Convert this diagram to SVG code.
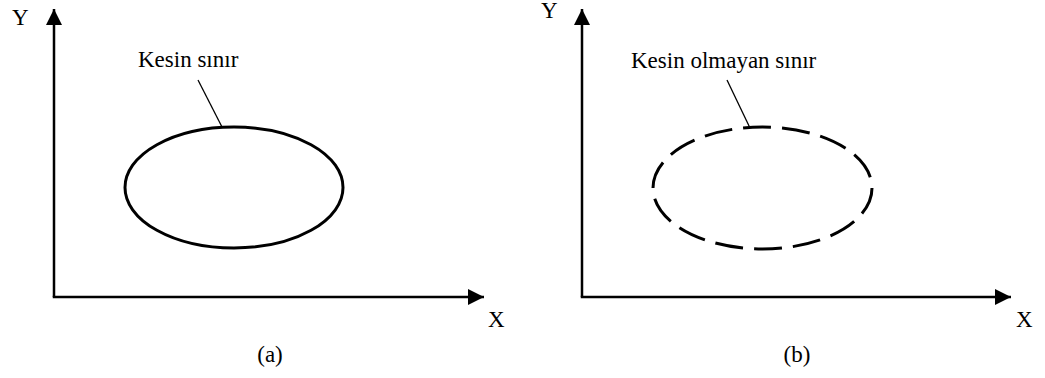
<svg xmlns="http://www.w3.org/2000/svg" width="1045" height="378" viewBox="0 0 1045 378">
<style>
.axis{stroke:#000;stroke-width:2.5;fill:none}
.solid{stroke:#000;stroke-width:3;fill:none}
.dash{stroke:#000;stroke-width:3;fill:none;stroke-dasharray:28 11}
.lead{stroke:#000;stroke-width:1.3;fill:none}
text{font-family:"Liberation Serif","Times New Roman",serif;font-size:23px;fill:#000}
</style>
<defs>
<marker id="ah" viewBox="0 0 16 16" refX="16" refY="8" markerWidth="16" markerHeight="16" markerUnits="userSpaceOnUse" orient="auto">
<path d="M0,0 L16,8 L0,16 Z" fill="#000"/>
</marker>
</defs>
<rect width="1045" height="378" fill="#fff"/>
<g id="connectors">
<line class="axis" x1="54" y1="297" x2="54" y2="9" marker-end="url(#ah)"/>
<line class="axis" x1="52.75" y1="297" x2="484" y2="297" marker-end="url(#ah)"/>
<line class="axis" x1="582" y1="297" x2="582" y2="9" marker-end="url(#ah)"/>
<line class="axis" x1="580.75" y1="297" x2="1011" y2="297" marker-end="url(#ah)"/>
<line class="lead" x1="198" y1="80" x2="222" y2="127"/>
<line class="lead" x1="727" y1="80" x2="750" y2="128"/>
</g>
<g id="ellipse-a">
<ellipse class="solid" cx="234" cy="187.5" rx="109" ry="60.5"/>
<text x="138" y="67">Kesin sınır</text>
</g>
<g id="ellipse-b">
<ellipse class="dash" cx="762.5" cy="188" rx="109.5" ry="61"/>
<text x="631" y="68">Kesin olmayan sınır</text>
</g>
<g id="labels">
<text x="12" y="25">Y</text>
<text x="541" y="18">Y</text>
<text x="488" y="327">X</text>
<text x="1016" y="327">X</text>
<text x="270" y="362" text-anchor="middle">(a)</text>
<text x="797" y="362" text-anchor="middle">(b)</text>
</g>
</svg>
